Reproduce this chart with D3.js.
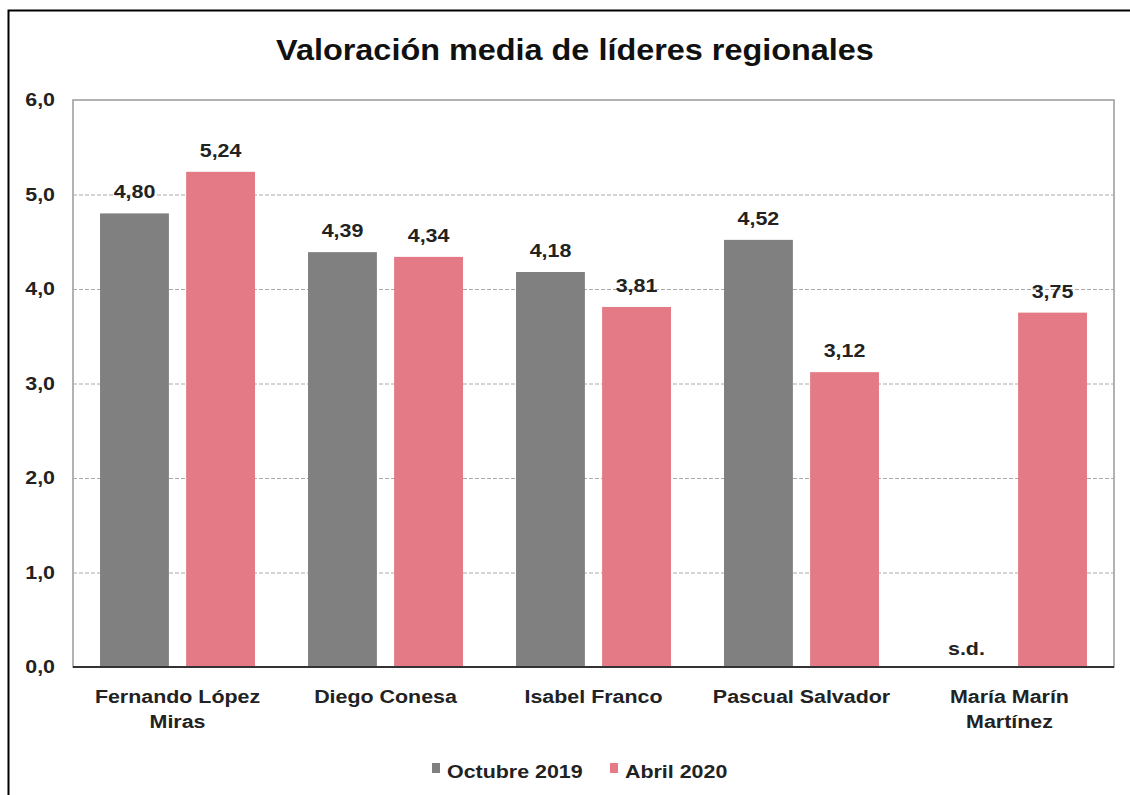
<!DOCTYPE html>
<html>
<head>
<meta charset="utf-8">
<script src="https://cdn.jsdelivr.net/npm/d3@7"></script>
<style>
  body { margin: 0; background: #fff; }
  svg { font-family: 'Liberation Sans', Arial, sans-serif; }
</style>
</head>
<body>
<svg id="chart" width="1130" height="795"></svg>
<script>
// data
var leaders = [['Fernando López', 'Miras'], ['Diego Conesa'], ['Isabel Franco'],
               ['Pascual Salvador'], ['María Marín', 'Martínez']];
var series_names = ['Octubre 2019', 'Abril 2020'];
var octubre_2019 = [4.80, 4.39, 4.18, 4.52, null];
var abril_2020 = [5.24, 4.34, 3.81, 3.12, 3.75];
var y_ticks = [0, 1, 2, 3, 4, 5, 6];

var colors = ['#808080', '#e37a86'];
var stretch = 1.19;  // the original text looks widened

var svg = d3.select('#chart');
var margin = { top: 100, left: 73, right: 16, bottom: 128 };
var inner_width = 1130 - margin.left - margin.right;
var inner_height = 795 - margin.top - margin.bottom;

function place(x, y, s) {
     return 'translate(' + x + ',' + y + ') scale(' + (s || stretch) + ',1)';
}

// outer frame (cut at right/bottom like the original)
svg.append('path')
     .attr('d', 'M8.5,795 L8.5,10.5 L1130,10.5')
     .attr('fill', 'none')
     .attr('stroke', '#000')
     .attr('stroke-width', 2);

svg.append('text')
     .attr('transform', place(575, 60, 1.08))
     .attr('text-anchor', 'middle')
     .style('font-size', '30px')
     .style('font-weight', 'bold')
     .attr('fill', '#111')
     .text('Valoración media de líderes regionales');

var g = svg.append('g')
     .attr('transform', 'translate(' + margin.left + ',' + margin.top + ')');

var x_scale = d3.scaleBand()
     .domain(d3.range(leaders.length))
     .range([0, inner_width])
     .paddingInner(0.255)
     .paddingOuter(0.13);

var x_sub = d3.scaleBand()
     .domain([0, 1])
     .range([0, x_scale.bandwidth()])
     .paddingInner(0.2);

var y_scale = d3.scaleLinear()
     .domain([0, 6])
     .range([inner_height, 0]);

// plot area border
g.append('rect')
     .attr('x', 0)
     .attr('y', 0)
     .attr('width', inner_width)
     .attr('height', inner_height)
     .attr('fill', 'none')
     .attr('stroke', '#999')
     .attr('stroke-width', 1.5);

// dashed gridlines
g.append('g').selectAll('line')
     .data(y_ticks.filter(d => d > 0 && d < 6))
     .enter()
     .append('line')
     .attr('x1', 0)
     .attr('x2', inner_width)
     .attr('y1', d => y_scale(d) + 0.5)
     .attr('y2', d => y_scale(d) + 0.5)
     .attr('stroke', '#aaa')
     .attr('stroke-dasharray', '4,2');

var y_axis = d3.axisLeft(y_scale)
     .tickValues(y_ticks)
     .tickSize(0)
     .tickPadding(18 / stretch)
     .tickFormat(d => d3.format('.1f')(d).replace('.', ','));

g.append('g').call(y_axis)
     .call(a => a.select('.domain').remove())
     .selectAll('text')
     .attr('transform', 'scale(' + stretch + ',1)')
     .style('font-size', '18px')
     .style('font-weight', 'bold')
     .attr('fill', '#222')
     .attr('font-family', null);

var all_series = [octubre_2019, abril_2020];

all_series.forEach(function (values, s) {
     var bars = g.append('g');
     var rows = values.map((v, i) => ({ i: i, v: v }));

     bars.selectAll('rect')
          .data(rows.filter(d => d.v !== null))
          .enter()
          .append('rect')
          .attr('x', d => x_scale(d.i) + x_sub(s))
          .attr('y', d => y_scale(d.v))
          .attr('width', x_sub.bandwidth())
          .attr('height', d => inner_height - y_scale(d.v))
          .attr('fill', colors[s]);

     bars.selectAll('text')
          .data(rows)
          .enter()
          .append('text')
          .attr('transform', d => place(x_scale(d.i) + x_sub(s) + x_sub.bandwidth() / 2,
               d.v === null ? inner_height - 12 : y_scale(d.v) - 15))
          .attr('text-anchor', 'middle')
          .style('font-size', '18px')
          .style('font-weight', 'bold')
          .attr('fill', '#222')
          .text(d => d.v === null ? 's.d.' : d3.format('.2f')(d.v).replace('.', ','));
});

// bottom axis line
g.append('line')
     .attr('x1', 0)
     .attr('x2', inner_width)
     .attr('y1', inner_height)
     .attr('y2', inner_height)
     .attr('stroke', '#333')
     .attr('stroke-width', 2);

// category labels
var cat = g.append('g').selectAll('text')
     .data(leaders)
     .enter()
     .append('text')
     .attr('transform', (d, i) => place(x_scale(i) + x_scale.bandwidth() / 2, inner_height + 36))
     .attr('text-anchor', 'middle')
     .style('font-size', '18px')
     .style('font-weight', 'bold')
     .attr('fill', '#222');

cat.selectAll('tspan')
     .data(d => d)
     .enter()
     .append('tspan')
     .attr('x', 0)
     .attr('y', (d, k) => k * 25)
     .text(d => d);

// legend
var legend = svg.append('g')
     .attr('transform', 'translate(432,778)');
var legend_x = [0, 178];
series_names.forEach(function (name, s) {
     legend.append('rect')
          .attr('x', legend_x[s])
          .attr('y', -15)
          .attr('width', 8)
          .attr('height', 10)
          .attr('fill', colors[s]);
     legend.append('text')
          .attr('transform', place(legend_x[s] + 15, 0))
          .style('font-size', '18px')
          .style('font-weight', 'bold')
          .attr('fill', '#222')
          .text(name);
});
</script>
</body>
</html>
